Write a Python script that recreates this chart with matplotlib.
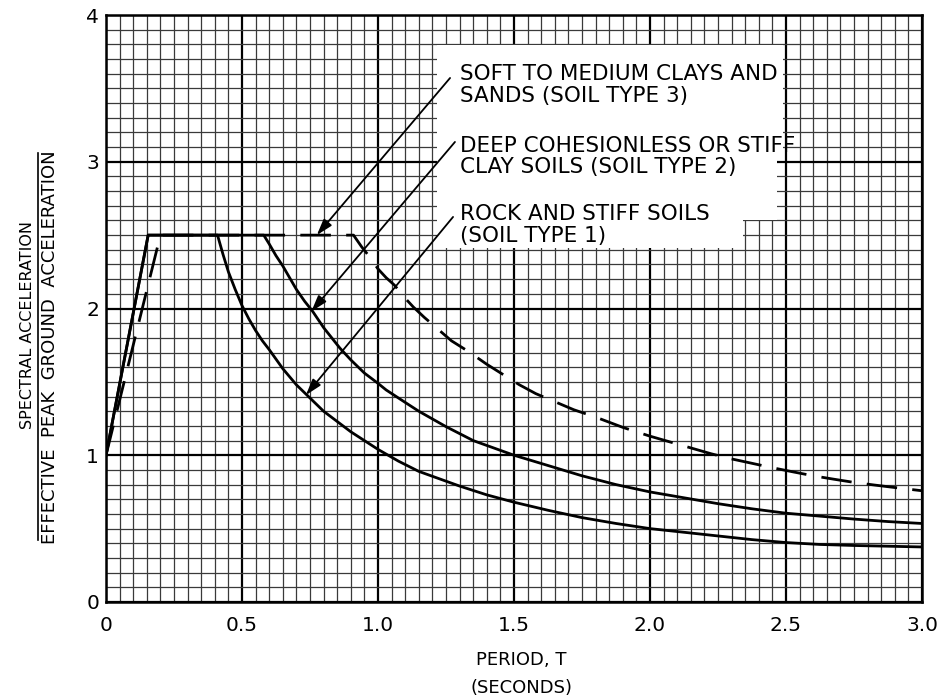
import matplotlib
matplotlib.use("Agg")
import matplotlib.pyplot as plt
import numpy as np
from matplotlib.lines import Line2D
from matplotlib.patches import Polygon

# ---------------- data ----------------
# Soil type 1 (rock and stiff soils) - solid
period_1 = [0.0, 0.155, 0.41, 0.43, 0.45, 0.475, 0.5, 0.525, 0.55, 0.575, 0.6,
            0.65, 0.7, 0.75, 0.8, 0.85, 0.9, 0.95, 1.0, 1.075, 1.15, 1.225, 1.3,
            1.4, 1.5, 1.625, 1.75, 1.875, 2.0, 2.125, 2.25, 2.375, 2.5, 2.625,
            2.75, 2.875, 3.0]
ratio_1 = [1.0, 2.5, 2.5, 2.37, 2.25, 2.13, 2.02, 1.93, 1.85, 1.78, 1.72,
           1.59, 1.48, 1.39, 1.30, 1.23, 1.16, 1.10, 1.04, 0.96, 0.89, 0.84, 0.79,
           0.73, 0.68, 0.625, 0.575, 0.535, 0.50, 0.475, 0.45, 0.425, 0.405, 0.392,
           0.385, 0.38, 0.375]

# Soil type 2 (deep cohesionless or stiff clay soils) - solid
period_2 = [0.0, 0.155, 0.58, 0.6, 0.625, 0.65, 0.675, 0.7, 0.73, 0.76, 0.8,
            0.86, 0.9, 0.95, 1.0, 1.03, 1.1, 1.15, 1.25, 1.35, 1.5, 1.625, 1.75,
            1.875, 2.0, 2.125, 2.25, 2.375, 2.5, 2.625, 2.75, 2.875, 3.0]
ratio_2 = [1.0, 2.5, 2.5, 2.44, 2.36, 2.29, 2.21, 2.13, 2.05, 1.98, 1.87,
           1.73, 1.65, 1.56, 1.49, 1.445, 1.36, 1.30, 1.195, 1.10, 1.0, 0.93, 0.86,
           0.80, 0.75, 0.71, 0.67, 0.635, 0.605, 0.585, 0.565, 0.548, 0.535]

# Soil type 3 (soft to medium clays and sands) - dashed
period_3 = [0.0, 0.2, 0.91, 0.94, 0.97, 1.0, 1.03, 1.06, 1.1, 1.13, 1.17, 1.22,
            1.27, 1.33, 1.4, 1.46, 1.52, 1.58, 1.65, 1.72, 1.8, 1.9, 2.0, 2.075,
            2.15, 2.225, 2.3, 2.375, 2.45, 2.525, 2.6, 2.675, 2.75, 2.825, 2.9, 3.0]
ratio_3 = [1.0, 2.5, 2.5, 2.42, 2.35, 2.27, 2.21, 2.16, 2.07, 2.01, 1.94, 1.86,
           1.78, 1.71, 1.62, 1.55, 1.48, 1.42, 1.365, 1.31, 1.26, 1.19, 1.13, 1.09,
           1.05, 1.01, 0.975, 0.945, 0.915, 0.887, 0.86, 0.837, 0.815, 0.797, 0.78, 0.758]

x_ticks = [0, 0.5, 1.0, 1.5, 2.0, 2.5, 3.0]
x_tick_labels = ['0', '0.5', '1.0', '1.5', '2.0', '2.5', '3.0']
y_ticks = [0, 1, 2, 3, 4]
y_tick_labels = ['0', '1', '2', '3', '4']

notes = ['SOFT TO MEDIUM CLAYS AND\nSANDS (SOIL TYPE 3)',
         'DEEP COHESIONLESS OR STIFF\nCLAY SOILS (SOIL TYPE 2)',
         'ROCK AND STIFF SOILS\n(SOIL TYPE 1)']

# ---------------- style ----------------
style = {
    "curve": {"color": "black", "linewidth": 2.0},
    "minor": {"color": "#3a3a3a", "linewidth": 0.9},
    "major": {"color": "black", "linewidth": 1.6},
    "tick": {"fontsize": 14.5},
    "note": {"fontsize": 15.5, "linespacing": 1.12},
    "label": {"fontsize": 13},
}

fig = plt.figure(figsize=(9.49, 6.99), dpi=100)
ax = fig.add_axes([0.1117, 0.1388, 0.8598, 0.8397])

ax.set_xlim(0, 3.0)
ax.set_ylim(0, 4)

# grid paper
for xv in np.arange(0, 3.0001, 0.05):
    kw = style["major"] if abs(xv / 0.5 - round(xv / 0.5)) < 1e-6 else style["minor"]
    ax.axvline(xv, zorder=1, **kw)
for yv in np.arange(0, 4.0001, 0.1):
    kw = style["major"] if abs(yv - round(yv)) < 1e-6 else style["minor"]
    ax.axhline(yv, zorder=1, **kw)

# blank area behind the notes
ax.add_patch(Polygon([(1.217, 3.796), (2.489, 3.796), (2.489, 3.012), (2.467, 3.012),
                      (2.467, 2.603), (2.342, 2.603), (2.342, 2.412), (1.217, 2.412)],
                     closed=True, facecolor='white', edgecolor='none', zorder=2))

# curves
ax.plot(period_1, ratio_1, zorder=4, **style["curve"])
ax.plot(period_2, ratio_2, zorder=4, **style["curve"])
ax.plot(period_3, ratio_3, zorder=4, linestyle=(0, (11, 5.5)), **style["curve"])

# notes and arrows
note_xy = [(1.301, 3.523), (1.301, 3.036), (1.301, 2.569)]
tails = [(1.265, 3.571), (1.283, 3.135), (1.276, 2.624)]
heads = [(0.775, 2.5), (0.755, 1.98), (0.735, 1.41)]
for txt, (tx, ty), tail, head in zip(notes, note_xy, tails, heads):
    ax.text(tx, ty, txt, ha='left', va='center', zorder=6, **style["note"])
    ax.annotate('', xy=head, xytext=tail, zorder=5,
                arrowprops=dict(arrowstyle='-|>,head_length=0.7,head_width=0.22',
                                color='black', lw=1.3, mutation_scale=14,
                                shrinkA=0, shrinkB=0))

ax.set_xticks(x_ticks)
ax.set_xticklabels(x_tick_labels, **style["tick"])
ax.set_yticks(y_ticks)
ax.set_yticklabels(y_tick_labels, **style["tick"])
ax.tick_params(axis='x', length=0, pad=10)
ax.tick_params(axis='y', length=0, pad=5)
for spine in ax.spines.values():
    spine.set_linewidth(1.8)
    spine.set_zorder(7)

# axis titles
fig.text(0.5497, 0.0558, 'PERIOD, T', ha='center', va='center', **style["label"])
fig.text(0.5497, 0.0157, '(SECONDS)', ha='center', va='center', **style["label"])
fig.text(0.0295, 0.535, 'SPECTRAL ACCELERATION', rotation=90,
         ha='center', va='center', fontsize=11.5)
fig.text(0.0527, 0.5036, 'EFFECTIVE  PEAK  GROUND  ACCELERATION', rotation=90,
         ha='center', va='center', **style["label"])
fig.add_artist(Line2D([0.040, 0.040], [0.227, 0.781], color='black', lw=1.2))

plt.savefig('out.png', dpi=100)
